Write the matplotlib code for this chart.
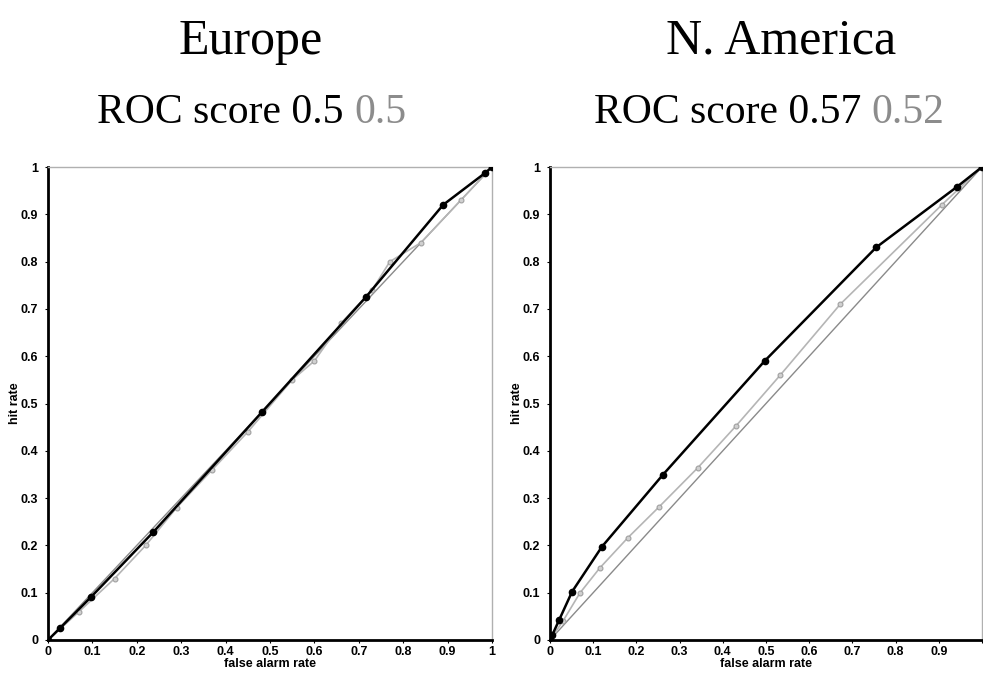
import matplotlib
matplotlib.use("Agg")
import matplotlib.pyplot as plt

# ---- data ----
regions = ["Europe", "N. America"]
scores_black = ["0.5", "0.57"]
scores_grey = ["0.5", "0.52"]

eu_black_far = [0.0, 0.027, 0.097, 0.237, 0.482, 0.716, 0.89, 0.984, 1.0]
eu_black_hit = [0.0, 0.025, 0.091, 0.228, 0.482, 0.725, 0.92, 0.987, 1.0]
eu_grey_far = [0.0, 0.07, 0.15, 0.22, 0.29, 0.37, 0.45, 0.55, 0.60, 0.66, 0.73, 0.77, 0.84, 0.93, 1.0]
eu_grey_hit = [0.0, 0.06, 0.13, 0.20, 0.28, 0.36, 0.44, 0.55, 0.59, 0.67, 0.74, 0.80, 0.84, 0.93, 1.0]

na_black_far = [0.0, 0.005, 0.021, 0.051, 0.12, 0.261, 0.497, 0.755, 0.942, 1.0]
na_black_hit = [0.0, 0.01, 0.042, 0.102, 0.197, 0.349, 0.59, 0.83, 0.958, 1.0]
na_grey_far = [0.0, 0.03, 0.069, 0.115, 0.18, 0.252, 0.342, 0.43, 0.533, 0.672, 0.907, 1.0]
na_grey_hit = [0.0, 0.04, 0.099, 0.152, 0.216, 0.281, 0.364, 0.452, 0.56, 0.71, 0.92, 1.0]

ticks = [0, 0.1, 0.2, 0.3, 0.4, 0.5, 0.6, 0.7, 0.8, 0.9, 1]
tick_labels = ["0", "0.1", "0.2", "0.3", "0.4", "0.5", "0.6", "0.7", "0.8", "0.9", "1"]

W, H = 983, 675
fig = plt.figure(figsize=(W / 100, H / 100), dpi=100)

def px_axes(x0, x1, y_top, y_bot):
    return fig.add_axes([x0 / W, 1 - y_bot / H, (x1 - x0) / W, (y_bot - y_top) / H])

ax1 = px_axes(48, 492, 167, 640)
ax2 = px_axes(550, 982, 167, 640)

curves = [
    (ax1, eu_black_far, eu_black_hit, eu_grey_far, eu_grey_hit),
    (ax2, na_black_far, na_black_hit, na_grey_far, na_grey_hit),
]

small = dict(fontfamily="Liberation Sans", fontweight="bold", fontsize=9)

for ax, bx, by, gx, gy in curves:
    ax.plot([0, 1], [0, 1], color="#8a8a8a", lw=1.0, zorder=1)
    ax.plot(gx, gy, color="#b5b5b5", lw=1.2, marker="o", ms=3.5,
            mfc="#d0d0d0", mec="#a0a0a0", mew=0.8, zorder=2)
    ax.plot(bx, by, color="black", lw=1.8, marker="o", ms=4.5, zorder=3)
    ax.set_xlim(0, 1)
    ax.set_ylim(0, 1)
    ax.set_xticks(ticks)
    ax.set_yticks(ticks)
    ax.set_yticklabels(tick_labels, **small)
    ax.tick_params(length=2, width=0.8)
    ax.tick_params(axis="y", pad=5)
    ax.tick_params(axis="x", pad=2)
    ax.set_xlabel("false alarm rate", labelpad=0, **small)
    ax.set_ylabel("hit rate", labelpad=0, **small)
    ax.spines["left"].set_linewidth(2.0)
    ax.spines["bottom"].set_linewidth(2.0)
    for s in ["top", "right"]:
        ax.spines[s].set_color("#b0b0b0")
        ax.spines[s].set_linestyle((0, (1, 1)))
        ax.spines[s].set_linewidth(1.0)

ax1.set_xticklabels(tick_labels, **small)
# the right panel's "1" falls off the page edge in the original
ax2.set_xticklabels(tick_labels[:-1] + [""], **small)

# ---- titles ----
title_x = [251, 781]
score_x = [97, 594]
for i in range(2):
    fig.text(title_x[i] / W, 1 - 54 / H, regions[i], ha="center", va="baseline",
             fontfamily="Liberation Serif", fontsize=36)
    t = fig.text(score_x[i] / W, 1 - 123 / H, "ROC score " + scores_black[i] + " ",
                 ha="left", va="baseline", fontfamily="Liberation Serif", fontsize=30)
    plt.annotate(scores_grey[i], xy=(1, 0), xycoords=t, ha="left", va="bottom",
                 fontfamily="Liberation Serif", fontsize=30, color="#8c8c8c",
                 annotation_clip=False)

fig.savefig("out.png", dpi=100)
